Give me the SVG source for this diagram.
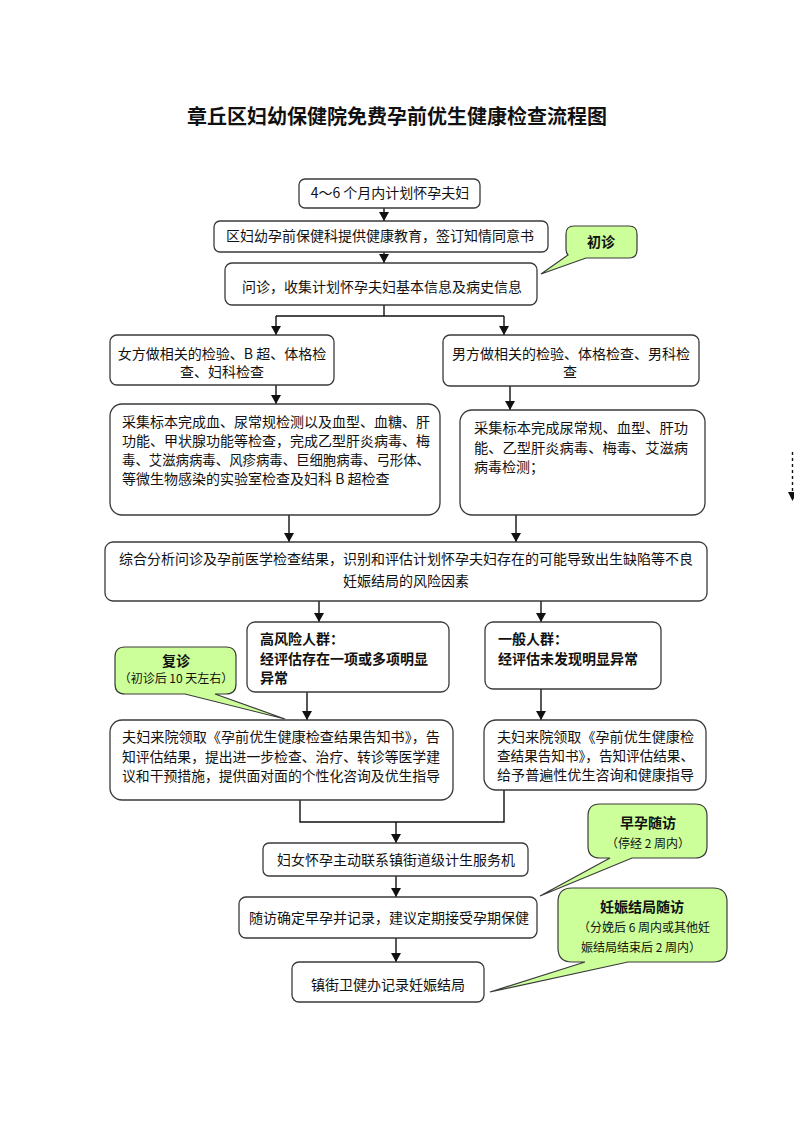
<svg xmlns="http://www.w3.org/2000/svg" width="794" height="1123" viewBox="0 0 794 1123">
<style>
text{font-family:"Noto Sans CJK SC","Liberation Sans",sans-serif;fill:#111;font-size:14px}
.title{font-size:20px;font-weight:bold}
.c{text-anchor:middle}
.b{font-weight:bold}
.s{font-size:12px}
.box{fill:#fff;stroke:#3a3a3a;stroke-width:1.3}
.call{fill:#ccff99;stroke:#3a3a3a;stroke-width:1.2}
.ln{fill:none;stroke:#111;stroke-width:1.4}
.ar{fill:none;stroke:#111;stroke-width:1.4;marker-end:url(#ah)}
</style>
<defs>
<marker id="ah" markerUnits="userSpaceOnUse" markerWidth="9" markerHeight="10" refX="9" refY="5" orient="auto" viewBox="0 0 9 10">
<path d="M0,0 L9,5 L0,10 z" fill="#111"/>
</marker>
</defs>
<rect width="794" height="1123" fill="#fff"/>
<text class="title c" x="397" y="124">章丘区妇幼保健院免费孕前优生健康检查流程图</text>

<g id="connectors">
<line class="ar" x1="384" y1="208" x2="384" y2="221"/>
<line class="ar" x1="384" y1="252" x2="384" y2="263"/>
<polyline class="ln" points="384,305 384,316"/>
<polyline class="ln" points="276,316 504,316"/>
<line class="ar" x1="276" y1="316" x2="276" y2="335"/>
<line class="ar" x1="504" y1="316" x2="504" y2="335"/>
<line class="ar" x1="276" y1="385" x2="276" y2="404"/>
<line class="ar" x1="510" y1="386" x2="510" y2="410"/>
<line class="ar" x1="289" y1="515" x2="289" y2="542"/>
<line class="ar" x1="516" y1="515" x2="516" y2="542"/>
<line class="ar" x1="319" y1="601" x2="319" y2="622"/>
<line class="ar" x1="541" y1="601" x2="541" y2="622"/>
<line class="ar" x1="307" y1="692" x2="307" y2="720"/>
<line class="ar" x1="541" y1="689" x2="541" y2="720"/>
<polyline class="ln" points="300,800 300,822 504,822 504,790"/>
<line class="ar" x1="396" y1="822" x2="396" y2="843"/>
<line class="ar" x1="396" y1="876" x2="396" y2="897"/>
<line class="ar" x1="396" y1="938" x2="396" y2="962"/>
<line x1="792.5" y1="452" x2="792.5" y2="492" stroke="#111" stroke-width="1.4" stroke-dasharray="3,3"/>
<path d="M788,492 L797,492 L792.5,501 z" fill="#111"/>
</g>

<g id="n1"><rect class="box" x="299" y="179" width="181" height="29" rx="6"/>
<text class="c" x="390" y="198">4～6 个月内计划怀孕夫妇</text></g>

<g id="n2"><rect class="box" x="214" y="221" width="334" height="31" rx="6"/>
<text class="c" x="380" y="241">区妇幼孕前保健科提供健康教育，签订知情同意书</text></g>

<g id="n3"><rect class="box" x="225" y="263" width="312" height="42" rx="7"/>
<text class="c" x="382" y="292">问诊，收集计划怀孕夫妇基本信息及病史信息</text></g>

<g id="c1"><path class="call" d="M574,226 H629 Q637,226 637,234 V250 Q637,258 629,258 H586 L541,274 L568,255 Q566,253 566,249 V234 Q566,226 574,226 Z"/>
<text class="c b" x="601" y="247">初诊</text></g>

<g id="f1"><rect class="box" x="110" y="335" width="224" height="50" rx="7"/>
<text class="c" x="222" y="359">女方做相关的检验、B 超、体格检</text>
<text class="c" x="222" y="377">查、妇科检查</text></g>

<g id="m1"><rect class="box" x="443" y="335" width="256" height="51" rx="7"/>
<text class="c" x="571" y="359">男方做相关的检验、体格检查、男科检</text>
<text class="c" x="570" y="377">查</text></g>

<g id="f2"><rect class="box" x="110" y="404" width="330" height="111" rx="12"/>
<text x="122" y="427" textLength="308" lengthAdjust="spacingAndGlyphs">采集标本完成血、尿常规检测以及血型、血糖、肝</text>
<text x="122" y="446" textLength="308" lengthAdjust="spacingAndGlyphs">功能、甲状腺功能等检查，完成乙型肝炎病毒、梅</text>
<text x="122" y="465" textLength="308" lengthAdjust="spacingAndGlyphs">毒、艾滋病病毒、风疹病毒、巨细胞病毒、弓形体、</text>
<text x="122" y="484">等微生物感染的实验室检查及妇科 B 超检查</text></g>

<g id="m2"><rect class="box" x="460" y="410" width="245" height="105" rx="12"/>
<text x="474" y="433" textLength="214" lengthAdjust="spacingAndGlyphs">采集标本完成尿常规、血型、肝功</text>
<text x="474" y="453" textLength="214" lengthAdjust="spacingAndGlyphs">能、乙型肝炎病毒、梅毒、艾滋病</text>
<text x="474" y="472">病毒检测；</text></g>

<g id="syn"><rect class="box" x="105" y="542" width="602" height="59" rx="8"/>
<text class="c" x="406" y="564">综合分析问诊及孕前医学检查结果，识别和评估计划怀孕夫妇存在的可能导致出生缺陷等不良</text>
<text class="c" x="406" y="586">妊娠结局的风险因素</text></g>

<g id="hi"><rect class="box" x="247" y="622" width="202" height="70" rx="8"/>
<text class="b" x="260" y="644">高风险人群：</text>
<text class="b" x="260" y="664">经评估存在一项或多项明显</text>
<text class="b" x="260" y="683">异常</text></g>

<g id="ge"><rect class="box" x="485" y="622" width="176" height="67" rx="8"/>
<text class="b" x="498" y="644">一般人群：</text>
<text class="b" x="498" y="664">经评估未发现明显异常</text></g>

<g id="c2"><path class="call" d="M125,647 H226 Q236,647 236,657 V684 Q236,694 226,694 H215 L285,719 L185,694 H125 Q115,694 115,684 V657 Q115,647 125,647 Z"/>
<text class="c b" x="176" y="666">复诊</text>
<text class="c s" x="176" y="683">（初诊后 10 天左右）</text></g>

<g id="hr"><rect class="box" x="110" y="720" width="343" height="80" rx="12"/>
<text x="122" y="742" textLength="318" lengthAdjust="spacingAndGlyphs">夫妇来院领取《孕前优生健康检查结果告知书》，告</text>
<text x="122" y="762" textLength="318" lengthAdjust="spacingAndGlyphs">知评估结果，提出进一步检查、治疗、转诊等医学建</text>
<text x="122" y="781" textLength="318" lengthAdjust="spacingAndGlyphs">议和干预措施，提供面对面的个性化咨询及优生指导</text></g>

<g id="gn"><rect class="box" x="484" y="720" width="222" height="70" rx="12"/>
<text x="497" y="742" textLength="197" lengthAdjust="spacingAndGlyphs">夫妇来院领取《孕前优生健康检</text>
<text x="497" y="761" textLength="197" lengthAdjust="spacingAndGlyphs">查结果告知书》，告知评估结果、</text>
<text x="497" y="780" textLength="197" lengthAdjust="spacingAndGlyphs">给予普遍性优生咨询和健康指导</text></g>

<g id="n4"><rect class="box" x="263" y="843" width="265" height="33" rx="6"/>
<text class="c" x="396" y="865">妇女怀孕主动联系镇街道级计生服务机</text></g>

<g id="n5"><rect class="box" x="239" y="897" width="298" height="41" rx="7"/>
<text class="c" x="389" y="923">随访确定早孕并记录，建议定期接受孕期保健</text></g>

<g id="n6"><rect class="box" x="292" y="962" width="192" height="40" rx="7"/>
<text class="c" x="388" y="990">镇街卫健办记录妊娠结局</text></g>

<g id="c3"><path class="call" d="M600,804 H695 Q707,804 707,816 V846 Q707,858 695,858 H632 L540,896 L610,858 H600 Q588,858 588,846 V816 Q588,804 600,804 Z"/>
<text class="c b" x="648" y="828">早孕随访</text>
<text class="c s" x="648" y="848">（停经 2 周内）</text></g>

<g id="c4"><path class="call" d="M572,888 H713 Q727,888 727,902 V948 Q727,962 713,962 H628 L490,992 L585,962 H572 Q558,962 558,948 V902 Q558,888 572,888 Z"/>
<text class="c b" x="642" y="912">妊娠结局随访</text>
<text class="c s" x="644" y="932">（分娩后 6 周内或其他妊</text>
<text class="c s" x="641" y="952">娠结局结束后 2 周内）</text></g>
</svg>
